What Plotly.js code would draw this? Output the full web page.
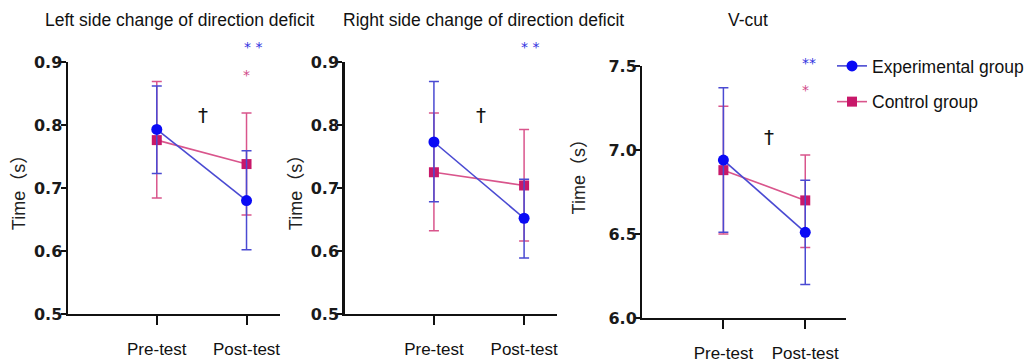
<!DOCTYPE html>
<html>
<head>
<meta charset="utf-8">
<script src="https://cdn.plot.ly/plotly-3.0.1.min.js"></script>
<style>html,body{margin:0;padding:0;background:#fff;}#chart{width:1029px;height:363px;}</style>
</head>
<body>
<div id="chart"></div>
<script>
// ---- data ----
var categories = ['Pre-test', 'Post-test'];
var groupNames = ['Experimental group', 'Control group'];
var panelTitles = ['Left side change of direction deficit', 'Right side change of direction deficit', 'V-cut'];
var yTitle = 'Time\uFF08s\uFF09';

var leftExpMean   = [0.793, 0.680];
var leftExpUpper  = [0.862, 0.759];
var leftExpLower  = [0.723, 0.602];
var leftCtrlMean  = [0.776, 0.738];
var leftCtrlUpper = [0.869, 0.819];
var leftCtrlLower = [0.684, 0.657];

var rightExpMean   = [0.773, 0.652];
var rightExpUpper  = [0.869, 0.714];
var rightExpLower  = [0.678, 0.589];
var rightCtrlMean  = [0.725, 0.704];
var rightCtrlUpper = [0.819, 0.793];
var rightCtrlLower = [0.632, 0.616];

var vcutExpMean   = [6.94, 6.51];
var vcutExpUpper  = [7.37, 6.82];
var vcutExpLower  = [6.51, 6.20];
var vcutCtrlMean  = [6.88, 6.70];
var vcutCtrlUpper = [7.26, 6.97];
var vcutCtrlLower = [6.50, 6.42];

var yTicks01 = [0.5, 0.6, 0.7, 0.8, 0.9];
var yTicks3 = [6.0, 6.5, 7.0, 7.5];
var yTickText3 = ['6.0', '6.5', '7.0', '7.5'];

var txtFont = 'Liberation Sans, Arial, sans-serif';

var blueM = '#0a0af5', blueL = '#4a4ad2';
var pinkM = '#c8186a', pinkL = '#d9558c';

function errs(mean, up, lo) {
  return {
    plus: up.map(function (v, i) { return +(v - mean[i]).toFixed(4); }),
    minus: lo.map(function (v, i) { return +(mean[i] - v).toFixed(4); })
  };
}

function trace(mean, up, lo, isExp, k) {
  var e = errs(mean, up, lo);
  var suffix = k === 1 ? '' : String(k);
  return {
    type: 'scatter', mode: 'lines+markers',
    x: categories, y: mean,
    xaxis: 'x' + suffix, yaxis: 'y' + suffix,
    name: isExp ? groupNames[0] : groupNames[1],
    legendgroup: isExp ? 'exp' : 'ctrl',
    showlegend: k === 3,
    legendrank: isExp ? 1 : 2,
    line: { color: isExp ? blueL : pinkL, width: 1.6 },
    marker: { color: isExp ? blueM : pinkM, size: isExp ? 11 : 10, symbol: isExp ? 'circle' : 'square' },
    error_y: { type: 'data', symmetric: false, array: e.plus, arrayminus: e.minus,
               color: isExp ? blueL : pinkL, thickness: 1.5, width: 5 },
    cliponaxis: false
  };
}

var data = [
  trace(leftCtrlMean, leftCtrlUpper, leftCtrlLower, false, 1),
  trace(leftExpMean, leftExpUpper, leftExpLower, true, 1),
  trace(rightCtrlMean, rightCtrlUpper, rightCtrlLower, false, 2),
  trace(rightExpMean, rightExpUpper, rightExpLower, true, 2),
  trace(vcutCtrlMean, vcutCtrlUpper, vcutCtrlLower, false, 3),
  trace(vcutExpMean, vcutExpUpper, vcutExpLower, true, 3)
];

var W = 1029, H = 363;
function px(x) { return x / W; }
function py(y) { return 1 - y / H; }

function xax(d, r) {
  return {
    domain: d, type: 'category', range: r,
    showline: true, linecolor: '#111', linewidth: 2.4,
    ticks: 'outside', ticklen: 9, tickwidth: 2, tickcolor: '#111',
    showgrid: false, zeroline: false, fixedrange: true,
    tickangle: 0,
    tickfont: { family: txtFont, size: 17, color: '#111' },
    ticklabelstandoff: 9
  };
}
var yTitleFont = { family: 'Liberation Sans, Noto Sans CJK SC', size: 18, color: '#222' };
function yax(d, r, tv, tt, withTitle) {
  var o = {
    domain: d, range: r,
    showline: true, linecolor: '#111', linewidth: 2.4,
    ticks: 'outside', ticklen: 5, tickwidth: 2, tickcolor: '#111',
    showgrid: false, zeroline: false, fixedrange: true,
    tickvals: tv,
    ticklabelstandoff: -5,
    tickfont: { family: 'DejaVu Sans', size: 16, color: '#1a1a1a', weight: 700 }
  };
  if (withTitle) o.title = { text: yTitle, font: yTitleFont, standoff: 4 };
  if (tt) o.ticktext = tt;
  return o;
}

function ann(text, x, y, xr, yr, color, size) {
  return { text: text, x: x, y: y, xref: xr, yref: yr, showarrow: false,
           font: { family: 'DejaVu Sans', size: size, color: color }, xanchor: 'center', yanchor: 'middle' };
}

var titleFont = { family: txtFont, size: 17.5, color: '#111' };
var annotations = [
  { text: panelTitles[0], x: px(180), y: py(20), xref: 'paper', yref: 'paper', showarrow: false,
    font: titleFont, xanchor: 'center', yanchor: 'middle' },
  { text: panelTitles[1], x: px(484), y: py(20), xref: 'paper', yref: 'paper', showarrow: false,
    font: titleFont, xanchor: 'center', yanchor: 'middle' },
  { text: panelTitles[2], x: px(749), y: py(20), xref: 'paper', yref: 'paper', showarrow: false,
    font: titleFont, xanchor: 'center', yanchor: 'middle' },
  { text: yTitle, x: px(580), y: py(172), xref: 'paper', yref: 'paper', showarrow: false, textangle: -90,
    font: yTitleFont, xanchor: 'center', yanchor: 'middle' },
  ann('* *', 1.07, py(47), 'x', 'paper', '#3030e0', 14),
  ann('*', 1.0, 0.879, 'x', 'y', '#d04a88', 14),
  ann('\u2020', 0.51, 0.816, 'x', 'y', '#111', 20),
  ann('* *', 1.06, py(47), 'x2', 'paper', '#3030e0', 14),
  ann('\u2020', 0.52, 0.816, 'x2', 'y2', '#111', 20),
  ann('**', 1.05, py(63), 'x3', 'paper', '#3030e0', 14),
  ann('*', 1.0, 7.355, 'x3', 'y3', '#d04a88', 14),
  ann('\u2020', 0.56, 7.076, 'x3', 'y3', '#111', 20)
];

var layout = {
  width: W, height: H,
  margin: { l: 0, r: 0, t: 0, b: 0 },
  paper_bgcolor: '#fff', plot_bgcolor: 'rgba(0,0,0,0)',
  showlegend: true,
  legend: { x: px(833), y: py(48), xanchor: 'left', yanchor: 'top',
            font: { family: txtFont, size: 17.5, color: '#111' },
            bgcolor: 'rgba(0,0,0,0)', tracegroupgap: 10, traceorder: 'grouped' },
  xaxis: xax([px(68), px(280)], [-0.99, 1.37]),
  yaxis: yax([py(314), py(62)], [0.5, 0.9], yTicks01, null, true),
  xaxis2: xax([px(345), px(558)], [-0.99, 1.37]),
  yaxis2: yax([py(314), py(62)], [0.5, 0.9], yTicks01, null, true),
  xaxis3: xax([px(643), px(847)], [-0.99, 1.50]),
  yaxis3: yax([py(318), py(66)], [6.0, 7.5], yTicks3, yTickText3, false),
  annotations: annotations
};
layout.xaxis.anchor = 'y'; layout.yaxis.anchor = 'x';
layout.xaxis2.anchor = 'y2'; layout.yaxis2.anchor = 'x2';
layout.xaxis3.anchor = 'y3'; layout.yaxis3.anchor = 'x3';

Plotly.newPlot('chart', data, layout, { staticPlot: true, displayModeBar: false });
</script>
</body>
</html>
